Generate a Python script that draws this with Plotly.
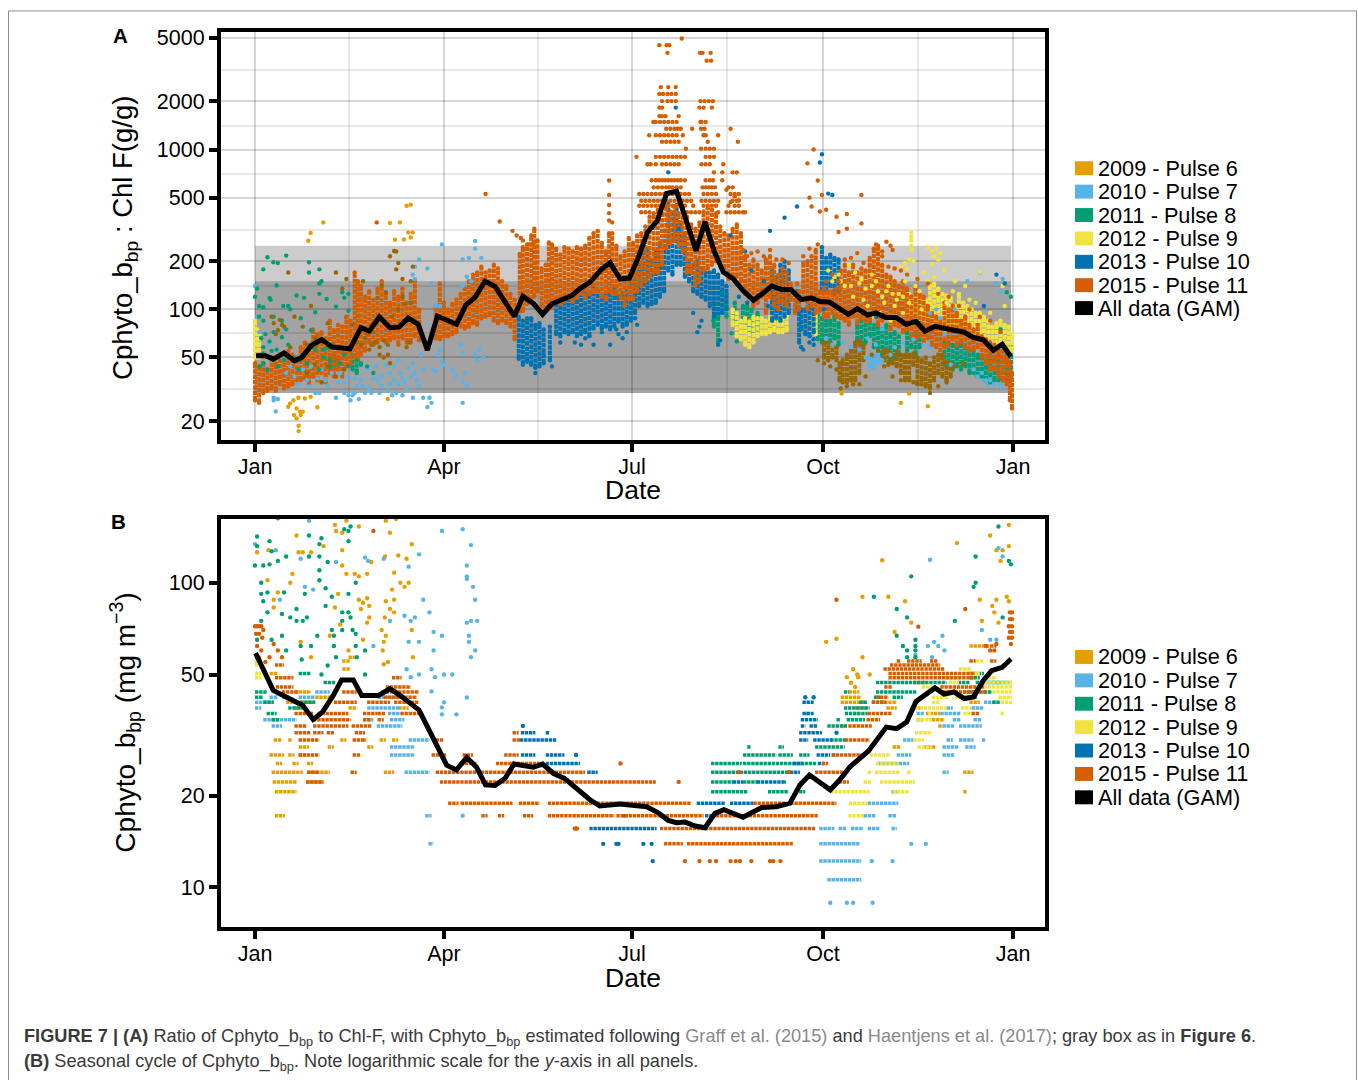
import plotly.graph_objects as go

MONTH_DAYS = [1, 92, 182.5, 274.5, 366]
MONTH_LABELS = ["Jan", "Apr", "Jul", "Oct", "Jan"]
MINOR_DAYS = [46.3, 137.3, 228.2, 320.2]
A_TICKS = [20, 50, 100, 200, 500, 1000, 2000, 5000]
A_MINOR = [31.6, 70.7, 141, 316, 707, 1414, 3162]
B_TICKS = [10, 20, 50, 100]
SERIES = ["2009 - Pulse 6", "2010 - Pulse 7", "2011 - Pulse 8", "2012 - Pulse 9",
          "2013 - Pulse 10", "2015 - Pulse 11", "All data (GAM)"]
COLORS = ["#E69F00", "#56B4E9", "#009E73", "#F0E442", "#0072B2", "#D55E00", "#000000"]
BROWN = "#996600"

GAM_A_DAY = [1.5,5.8,9.8,15,20,23.5,28.3,33,38,46.7,52,56,60.9,66,70.3,74.8,79.6,84,88.8,98,102.4,107,111.7,116.6,125.9,130,135,139.5,143.8,148.6,153.5,157.5,162.3,168,172,176.8,181.3,185.6,190,194.7,199.2,204,208,213.4,217.7,222,226.5,231.3,236,241,245.8,249.8,254.6,259,264,269,273,277.6,282.4,286.7,291,296,300,304.8,309.7,314.5,319.3,323.6,328.4,333,337.6,342.4,347,351.7,356.5,360.8,365]
GAM_A_VAL = [51.2,51.5,48.8,53.4,47.6,50,59.6,64.7,58.2,56.6,76.8,73.2,89.6,76.8,77.5,88.3,80.6,55.6,90.8,80.6,106,119,150,139,90.4,120.6,109,93,108,114,122,135,148,179,196,155,157,212,304,358,531,548,377,233,354,233,171,155,131,114,127,140,133,133,115,118,112,111,101,93,101,92,95,89,89,80.6,84,73,78.3,75.7,74,72,66.6,64.6,55.5,60.5,50.6]
GAM_B_DAY = [1.3,5.8,9.8,16,24,29,33.6,38.7,42.7,48.3,52.4,60.4,66,70.8,80,86.9,93.3,98,103,107.7,112,116.6,121.4,125.7,130,135,139.5,144.6,150,157.5,162.3,167,176.8,189.6,195,200,204,208,213,217.7,222.5,226.8,236,245,252,258.6,263.4,268,278,282.7,287.5,296.3,305,310,314.8,319.3,328.4,332.8,337.6,342.4,347,351.7,355.7,360.8,365]
GAM_B_VAL = [58.8,50.9,44.3,42.2,39.6,35.6,37.7,42.7,48,48,42.7,42.7,44.9,42.7,38.2,30.8,25.2,24.3,26.7,24.8,21.7,21.6,22.8,25.4,25.2,24.8,25.4,23.7,22.8,20.7,19.4,18.5,18.8,18.4,17.6,16.6,16.3,16.4,15.9,15.7,17.5,18,17,18.3,18.4,18.9,21.7,23.4,20.9,22.6,24.9,28,33.6,33.2,34.9,40.8,45.2,43.1,43.8,41.7,42.2,47.8,51.5,52.8,56.2]

# Panel A: (day, low, high) value ranges of the dense clouds
A_COL_2015 = [(1,27,46),(3,26,44),(5,30,46),(7,31,42),(9,32,50),(11,31,46),(13,34,52),(15,32,48),(17,33,55),(19,34,52),(21,36,50),(23,36,58),(25,37,62),(27,34,58),(29,38,75),(31,36,70),(33,40,72),(35,35,66),(37,40,85),(39,38,74),(41,42,80),(43,38,78),(45,44,90),(47,45,85),(49,50,170),(50.5,48,150),(52,52,140),(54,55,120),(56,62,130),(58,60,115),(60,62,135),(62,65,150),(64,62,125),(66,64,110),(68,66,130),(70,60,120),(72,66,135),(74,62,110),(76,62,125),(78,68,150),(80,64,100),(88,66,105),(90,65,145),(92,68,110),(94,68,100),(96,70,108),(98,72,115),(100,78,125),(102,76,135),(104,78,150),(106,82,165),(108,80,170),(110,88,185),(112,90,170),(114,92,175),(116,85,190),(118,82,180),(120,85,150),(122,82,140),(124,78,125),(126,65,115),(128.5,97,222),(130,98,245),(132,108,255),(134,115,290),(135.5,120,320),(137,130,270),(139,105,180),(141,100,190),(142.5,108,262),(144,102,255),(146,115,240),(148,108,220),(150,112,245),(152,118,240),(154,112,230),(156,118,245),(158,125,240),(160,118,250),(162,125,280),(164,128,300),(166,130,310),(168,120,260),(170,115,230),(171.5,130,300),(173,125,300),(175,125,250),(177,118,215),(179,105,230),(181,115,280),(183,115,260),(185,130,290),(187,140,300),(189,150,330),(191,160,380),(193,170,400),(195,170,420),(197,190,400),(199,240,430),(201,260,410),(203,270,440),(205,250,400),(207,230,420),(209,170,380),(211,170,340),(213,140,320),(215,150,350),(217,175,410),(219,180,430),(221,190,420),(223,200,400),(225,190,330),(227,180,300),(229,155,290),(231,160,320),(233,160,340),(235,150,300),(237,125,215),(239,118,190),(241,105,205),(243,110,190),(245,120,175),(247,95,205),(249,120,215),(251,105,190),(253,100,165),(255,110,180),(257,105,170),(259,115,145),(261,95,125),(263,100,130),(265,115,195),(267,100,200),(269,105,215),(271,95,235),(273,98,130),(275,90,135),(277,90,130),(279,95,130),(281,90,135),(283,88,175),(285,85,190),(287,80,170),(289,90,190),(291,82,170),(293,88,180),(295,84,175),(297,85,210),(299,90,240),(301,80,240),(303,85,190),(305,90,165),(307,75,160),(309,80,150),(311,78,140),(313,72,150),(315,75,135),(317,68,120),(319,65,140),(321,68,125),(323,62,120),(325,66,105),(327,60,95),(329,58,90),(331,50,85),(333,58,110),(335,60,100),(337,65,105),(339,60,95),(341,62,85),(343,58,90),(345,55,80),(347,56,75),(349,58,80),(351,50,68),(353,46,65),(355,42,62),(357,42,60),(359,38,55),(361,36,55),(363,34,50),(364.5,27,47),(365.5,24,40)]
A_COL_2013 = [(128,49,90),(130,45,85),(132,47,88),(134,45,88),(136,43,80),(138,44,82),(140,46,75),(143,48,78),(146,70,108),(148,68,115),(150,72,112),(152,70,118),(154,72,120),(156,68,118),(158,70,125),(160,72,135),(162,68,125),(164,76,140),(166,80,130),(168,76,120),(170,78,125),(172,75,130),(174,78,135),(176,84,120),(178,78,125),(180,80,130),(182,85,150),(184,95,190),(186,105,190),(188,110,230),(190,105,240),(192,108,200),(194,110,230),(196,120,260),(198,130,310),(200,175,460),(202,165,400),(204,190,450),(206,190,350),(208,160,300),(210,150,200),(212,130,190),(214,125,200),(216,120,180),(218,115,170),(220,105,170),(222,90,175),(224,90,165),(226,95,150),(228,100,140),(250,85,175),(252,88,160),(254,85,190),(256,90,200),(258,95,175),(262,100,130),(263,62,100),(264,75,100),(266,70,100),(268,68,105),(270,72,100),(274,130,245),(276,130,210),(278,140,220),(280,125,210),(282,130,205)]
A_COL_2011 = [(37,42,50),(39,42,52),(41,43,48),(48,42,52),(50,40,50),(222,78,110),(224,62,100),(226,95,130),(228,90,125),(232,85,110),(236,85,105),(238,78,105),(240,70,100),(243,75,95),(272,65,92),(274,62,88),(276,66,85),(278,62,85),(280,66,90),(282,60,82),(291,64,80),(293,60,88),(295,62,80),(297,68,85),(299,58,80),(301,55,78),(303,52,75),(305,55,80),(307,48,70),(309,50,72),(311,52,68),(315,55,72),(317,58,68),(319,52,72),(321,58,70),(333,45,62),(335,43,62),(337,42,60),(339,44,58),(341,42,60),(343,44,58),(345,40,56),(347,40,55),(349,38,52),(351,38,50),(353,36,48),(355,35,52),(357,36,48),(359,36,52),(361,36,50),(363,35,56),(365,36,60)]
A_COL_BROWN = [(275,50,62),(277,48,62),(279,50,60),(281,48,58),(282.5,36,46),(284,35,48),(286,35,52),(288,36,56),(290,36,62),(292,40,64),(294,48,60),(304,48,56),(306,45,55),(308,46,52),(310,44,55),(312,40,52),(314,36,52),(316,36,52),(318,45,53),(320,34,50),(322,36,48),(324,33,50),(326,32,46),(328,36,50),(330,40,52),(332,38,52),(334,36,47),(336,38,46)]
A_COL_2012 = [(1,50,85),(2,50,75),(3,50,70),(231,80,100),(233,68,95),(235,65,85),(237,60,88),(239,58,84),(241,62,90),(243,68,88),(245,70,88),(247,70,85),(249,72,90),(251,74,86),(253,72,88),(255,72,88),(257,74,92),(269,72,88),(271,70,95),(316,95,125),(318,95,120),(320,85,120),(322,88,118),(324,85,115),(326,90,140),(328,80,145),(330,75,135),(332,76,125),(334,72,122),(336,75,118),(338,78,105),(340,80,120),(342,80,110),(344,76,105),(346,72,100),(348,70,95),(350,70,95),(352,66,90),(354,60,85),(356,60,78),(358,60,82),(360,62,85),(362,60,80),(364,55,78),(365.5,55,70)]
A_COL_2010 = [(297,44,50),(299,43,52),(301,46,55),(305,55,65),(326,58,72),(342,50,66),(346,44,60),(352,36,44),(354,34,40),(356,35,42),(360,33,40)]

# Panel A: individually read points
A_DAY_2009 = [26.7,27.8,33.9,66,70.8,74,76,68.4,72.7,74.8,76.9,76,17.9,17,19.5,21,19.8,22.7,24,21,23,22,22,21.9,25,27.8,31,64.9,312,316,325,283.5]
A_VAL_2009 = [269,301,350,347,350,445,452,273,274,303,303,282,25.8,24.6,27,24,21.8,22.9,22.9,20.8,21.8,18.7,17.3,28,27.7,28.4,24.4,27.5,26,29.8,24.8,29.8]
A_DAY_2010 = [1,2,3,10,10,11,12,8,16,18,20,22,24,26,27,28,30,31,32,33,35,36,38,40,41,42,44,44,45,46,47,48,49,49,50,51,52,53,54,55,56,57,58,59,60,61,62,62,64,65,66,66,67,68,68,69,70,70,71,72,72,73,74,75,76,77,77,78,79,80,81,82,78,80,78,77,82,84,85,86,87,88,89,90,91,92,96,98,100,101,102,101,103,101,107,108,109,111,86,84,91,101,104,107,107,103,105,101,110,88,90,300,296,303,338,344,350,355,361,276,279,284,288,292,295,299,303,307,309,313,318,323,326,329,331,333,336,347,349,351,353,357,358,360,363]
A_VAL_2010 = [140,90,72,28,27,23,27.5,60,40,44,38,34,42,36,33,44,30,37,30,42,36,33,40,28,35,40,30,35,38,29,27,29,30,37,33,27.5,36,33,30,42,32,30,37,44,36,30,33,38,45,31,34,40,29,36,44,30,34,48,40,37,29,35,32,43,38,46,28,40,36,33,52,42,185,205,155,165,28,24.5,28,26,42,41,52,56,47,45,42,38,60,54,40,35,33,26,52,48,56,50,145,180,255,205,210,268,240,160,150,140,210,105,105,60,66,75,100,150,170,36,155,66,60,62,58,56,50,45,48,52,58,62,65,60,95,100,88,70,45,42,38,40,36,34,145,130]
A_DAY_2011 = [1,2,3,7,16,5,9.8,12,11.4,8,8.5,14.6,17,18,3,5,10,5,14,16,14,8,5,11.4,5,3.4,9,12,27,27,32,32,32,21,24.6,33,43,46,40,46,35.5,28,22.6,26,32,37,37,233,230.5,221.7,224,17,23,30,34,44,52,58,363,365,360,355,5,7,12,15,20,22,24,26,28,30,34,36,38,42,44,46,50,52,55,4,6,10]
A_VAL_2011 = [120,135,90,212,217,178,197,195,141,118,115,105,105,100,105,103,90,85,85,75,67,63,58,56,53,44,55,50,197,170,178,145,125,122,118,150,128,125,104,98,116,74,48,40,42,48,44,63,71,85,90,60,88,96,56,118,45,40,128,120,75,60,46,42,44,48,50,42,52,46,60,56,50,58,60,46,52,44,48,46,44,66,70,72]
A_DAY_BROWN = [9,10,11,12,13,14,15,17,18,20,24,26,28,30,33,36,40,43,45,48,50,53,55,57,58,60,61,62,63,64,65,66,66,67,68,69,70,70,72,72,73,74,75,76,77,74,76,69,52,54,56,59,61,63,65,44,40,36,30,26,272,275,278,281,283,286,289,292,295,298,301,304,308,312,318,322,326,330,334,338,342]
A_VAL_BROWN = [90,82,70,74,86,80,78,170,58,90,78,60,105,66,35,82,170,135,155,80,62,150,70,60,72,118,58,140,50,128,52,215,46,90,232,178,100,195,155,120,108,85,62,110,185,58,150,230,60,66,56,62,52,64,60,42,38,44,45,40,48,46,44,42,32,33,34,34,38,52,55,44,38,36,35,34,30,33,35,44,46]
A_DAY_2012 = [317,317,317,317,317,312,314,316,318,315,325,327,328,329,331,330,327,333,280,283,288,295,300,303,310,313,305,308,290,293,298,350,338,343,328,323,277,279,282,285,287,289,291,292,294,296,298,299,301,302,304,306,307,309,311,313,314,316,319,321,322,325,330,334,337,340,345,348,355,361,362]
A_VAL_2012 = [302,285,270,250,235,185,195,205,200,180,245,232,215,240,225,205,190,175,160,150,140,135,150,120,115,120,130,125,170,155,140,172,150,140,160,170,175,150,165,140,190,120,100,145,115,105,165,90,130,95,110,140,85,105,125,95,150,110,140,130,100,150,120,110,130,125,115,110,95,140,105]
A_DAY_2013 = [132,136,140,144,155,158,164,172,178,180,185,212,216,214,215,203.6,225,230,262,249,256,266,270,274,273,277,279,268,264,270,300,358,352,362,200,205,175,224,237,240,246,148,160,168,176,184,234,238,242,248,265,275]
A_VAL_2013 = [48,40,52,44,62,60,60,60,66,72,80,95,85,72,78,1830,64,290,440,310,375,70,65,935,830,530,520,62,58,60,90,165,105,145,720,320,75,60,230,175,150,62,66,72,70,88,120,110,118,105,56,100]
A_DAY_2015 = [59.6,112,118.8,125,127,129,130,133,135,171.5,171.5,171.5,171.5,171.5,173,270,267,272,268,269,273,274,276,281,282,286,286,293,293,301,305,303,307,308,197,195.7,199.2,200.5,206.5,199.6,215.3,216.5,220.4,218.5,220.6,196.4,200,203.6,195.7,197.5,199.6,201.5,203.6,197,199.6,201.5,203.6,215.5,217.5,219.5,221.5,195.7,215,217,221,195.7,197,198.7,205,192.8,194,196,198,200,202,204,215.5,216,218,230,199,201,203,204.5,206,211.5,215.8,217.5,224,190.8,194,196,198,200,202,204,207,217,218,219,233.5,197,199,201,203,205,208.5,215.8,218,220,222,184.7,194,196,198,200,202,204,206,208,218,220,222,226.5,190,191.5,194,197,199,201,203,205,216,218,220,222,226,231,233,228,230,232,234,236,238,240,243,246,249,252,255,258,262,265,268,272,276,279,282,285,288,291,294,297,300,303,306,309,312,315,320,325,330,335,340,345,350,355,360]
A_VAL_2015 = [350,527,355,310,290,280,270,255,260,640,520,450,400,360,350,1000,820,640,500,440,410,520,420,380,305,395,320,520,345,250,265,230,250,235,1830,4500,4500,4500,4950,4030,4030,4030,4030,3600,3600,2460,2460,2460,2230,2230,2230,2230,2230,2010,2010,2010,2010,2010,2010,2010,2010,1830,1830,1830,1830,1620,1620,1620,1620,1490,1490,1490,1490,1490,1490,1490,1490,1490,1490,1350,1350,1350,1350,1350,1350,1350,1350,1350,1230,1230,1230,1230,1230,1230,1230,1230,1230,1230,1230,1120,1120,1120,1120,1120,1120,1120,1013,1013,1013,1013,1013,900,900,900,900,900,900,900,900,900,900,900,900,810,810,810,810,810,810,810,810,810,810,810,810,720,720,720,720,560,470,510,480,235,215,225,230,215,235,205,205,195,145,215,240,255,150,165,150,205,210,225,195,190,255,215,185,180,175,165,155,145,125,120,105,100,90,85,72]
# Panel A: upper rows of the July peak, (value, days)
A_ROW_2015 = [(643,[192,194,195.5,197,198.5,200,201.5,203,204.5,206,208,218,220,221.5,226]),(580,[193,195,197,199,200.5,202,204,206,216.5,218,219.5,221,222.5,229,231]),(527,[186,188,190,192,194,196,198,200,202,204,206,208,210,217,219,221,223,230,232,234]),(478,[187,189,191,193,195,197,199,201,203,205,207,209,211,216,218,220,222,224,231,233]),(445,[186,188,190,192,194,196,198,200,202,204,206,208,212,217,219,221,223,229,232,234]),(405,[187,189,191,209,211,213,215,224,228,230,232,234,236,237])]

# Panel B: (level, flat list of start,end day pairs) of the quantised rows
B_RUN_2009 = [(17.2,[10.6,15.4]),(20.6,[10.6,21,342,344]),(22.2,[9.5,21,26,34]),(23.9,[9,24,26.5,37,63,68,342,347]),(25.5,[11,14,19,22,26,29]),(27.2,[8,15,17,20,22,26]),(28.9,[22,27,36,39,55,58,308,312,323,329]),(30.5,[10,14,17,19,42,45,53,55,61,64,67,70]),(33.9,[283,286,330,332]),(35.5,[327,333]),(37.2,[266,268,289,292,324,331]),(38.8,[290,296,320,322,305,310,20,24,46,50,70,75]),(40.5,[283,295,302,310,345,350,16,30]),(42.1,[283,293,30,38]),(43.8,[287,292,20,28]),(47.1,[318,324]),(50.4,[8,12]),(52.1,[43,47]),(55.4,[43,47,1,4]),(57.0,[1,4,46,49]),(62,[345,355])]
B_RUN_2010 = [(10.6,[276.6,293]),(12.2,[272.7,293]),(13.9,[272.7,292,84.5,86.8]),(15.6,[272.7,280,282,286,288,294,296,302,307.5,310]),(17.2,[294,300,306,310,83,86]),(18.9,[296,310.8]),(20.6,[307.5,310]),(23.9,[332,335,73,85]),(25.5,[301,316]),(27.2,[310,317,332,338,66,78]),(28.9,[332,340,343,348,66,78]),(30.5,[313,318,334,337,340,347,351,352.5,75,85]),(33.9,[332,338,340,351,59.6,72,9,14]),(35.5,[319.5,323,337,341,347,351,5,21,53,58,66,73]),(37.2,[319.5,323,331,341,65,71]),(38.8,[334,337,346,352,55,71,1,4]),(40.5,[1,10,352,358]),(42.1,[8,12,14,18,22,30,60,72]),(43.8,[30,37,345,352]),(47.1,[352,360])]
B_RUN_2011 = [(20.6,[220.6,238.2,248,258,263,266]),(22.2,[220.6,231.3,236,243,255,257]),(23.9,[220.6,258.6]),(25.5,[220.6,235.4,236,271.5]),(27.2,[236,252,253,260,263,268,278.7,281]),(28.9,[238,240,253,255.7,270.7,285]),(30.5,[278,286]),(33.9,[276.6,286]),(35.5,[281,283,285.9,294.7,9,13]),(37.2,[285,296,6.6,11.4]),(38.8,[284.6,297,17,24]),(40.5,[292,296,298,304,5,10,22.7,30,356,360]),(42.1,[299,302,308,313,1,5,345,349]),(43.8,[284.6,287,300,319.6,342,348,1,6.6,352,356]),(47.1,[300,334,339.5,345,348,365,34,40]),(50.4,[345,352,22,28]),(48.8,[345,350])]
B_RUN_2012 = [(17.2,[286.7,294]),(18.9,[287,296]),(20.6,[278,297,308,316]),(22.2,[294,298,302,318.8]),(23.9,[296,298,299.6,311.6,315,317]),(25.5,[300,311]),(27.2,[297,307]),(28.9,[320,327]),(30.5,[318,323]),(32.2,[318.8,327]),(35.5,[319.5,327]),(37.2,[325,327,342,346,360,362]),(38.8,[319,334,341,346]),(40.5,[327,331,360,365.5]),(42.1,[327,335,359,365.5,338,343]),(43.8,[356,365.5,333,338]),(45.5,[352,365.5,322,327]),(47.1,[352,365.5,335,340]),(48.8,[1,4,352,358,333,340]),(50.4,[1,4,345,350]),(52.1,[340,346]),(53.7,[1,3]),(55.4,[1,3,348,352])]
B_RUN_2013 = [(15.6,[162,194.4]),(17.2,[178,180,217.7,221.7]),(18.9,[213.7,227.3,229.7,241]),(22.2,[231,236,242.6,255.4]),(23.9,[161,166,258.6,263.4]),(25.5,[141,157.5,260,265,272,275]),(27.2,[129,136,141,150,271.4,278]),(30.5,[128.6,146,263,267.4,269.8,278.7]),(32.2,[129,136,141,143,263,274]),(33.9,[263.8,266,268,272]),(35.5,[263.8,272]),(37.2,[264.6,270]),(40.5,[264.6,270])]
B_RUN_2015 = [(13.9,[198,207,209,260]),(15.6,[196,271]),(17.2,[110,113,118,121,130,135,142,174,175,217,221,272]),(18.9,[94,99,100,125,128,138,142,211,241,281]),(22.2,[90,194,25.5,34,282,287]),(23.9,[88,160,270.7,284,26,32,47,50]),(25.5,[100,107.7,117,140,274,277]),(27.2,[86,93,101,106,121,128,22,32,48,52,278.7,294]),(30.5,[88,92,125,128.6,22,32,48,54,285,297]),(32.2,[125,128,20,28,29,34,35.5,39,49,54]),(33.9,[20,26,29,46,47.5,57,286.7,298]),(35.5,[29,47,53,57,60,63,295.5,302]),(37.2,[20,29,31,46,53,60,60,64,71,80,296,307.6,346,350]),(40.5,[39,50,55,66,68,80,298,305]),(42.1,[63,79,300,306]),(43.8,[14,22,43,50,64,80,332,353]),(45.5,[11,19.5,64,76,304,308,331,352]),(48.8,[10.6,19.5,67,71.6,306,347]),(50.4,[306,347.7]),(52.1,[303.6,333]),(53.7,[10.6,15,306.8,331]),(55.4,[310,312,315,322,326,330,345,348,355,358]),(62,[355,358])]

# Panel B: individually read points
B_DAY_2009 = [39.5,45,51,40,43,64,69,66,21,2,7.5,28,22,24,34,43,43,45,49,51,55,57,63.6,70,74,76.5,68,71,75,73,67,68,64,66,68,51,53,55,52,56,56,55,63.5,66,41,39.5,19,18,10,7,12,10,62,64,76.5,53,63,62.5,37,42,23,28,46,63,65,77,303,293.5,306,314,276,281,317,309,339,293.5,355,364,364,358,361,360,350,358,363,364,356,357,351,359,289,291,297,286,288,290,291.5]
B_VAL_2009 = [155,160,153,148,146,160,162,146,143,126,128,126,126,126,132,128,114,107,107,105,107,117,122,123,120,134,108,100,100,97,95,88,87,82,80,88,86,89,82,84,77,74,77,75,92,83,107,100,88,102,93,83,70,67,70,65,64,60,67,73,64,57,60,54,55,57,118.6,90,90,87,64,65.5,74,69,135,57,143,155,132,128,128,118,88,88,90,87,84,80,75,74,52,50,50,49,47,45.5,49]
B_DAY_2010 = [1,11,23,40,54,55.5,63,75,80,27,25,29,13,82,85,73,66,78,76,87,75,80,87,91,101,105,103,103,103,106,107,105,108,103,104,104,107,105,91,86,92,96,87.7,103,86,92,91,91,98,101,74,80,76,58,326,359,361,332,328,325,330,333,351,355,358,319,327,278,286,289,298.4,298,308,317,324]
B_VAL_2010 = [134,128,120,117,121,118,120,113,124,160,97,95,88,88,80,78,75,77,75,69,64,64,60,148,150,133,114,105,103,97,88,75,75,74,67,64,60,57,67,52,50,50,49,42,44,40.5,39,37,37,17.2,52,50,49,62,119,130,122,67,64,62,62,60,70,65,65,58,57,8.9,8.9,8.9,8.9,12.2,12.2,13.9,13.9]
B_DAY_2011 = [2,2,8,9,1,5,8,12,16,27,27,32,33,32,36,32,32,4,4,7,5,15,25,35,38,46,49.5,35,7,14,18,21,21,24,26,43,46,47,43,47,46,44,46,12,4,9,2,14,31,38,39,43,48,49.5,39,28,23,16,49.5,54,40,50,36,54,33,23.5,359,348,364,365,317,348,347,299,310,315,338,310,313,361,319,319,319,319,315,315]
B_VAL_2011 = [142,132,137,127,114,114,115,118,122,143,122,134,140,122,117,110,102,100,92,93,87,93,92,96,90,92,100,84,80,79,77,82,75,75,77,80,80,77,75,153,148,150,137,163,75,65,65,67,67,70,67,70,70,68,62,62,62,60,62,60,57,57,53.5,50,50,56,153,122,118,115,105,100,97,90,82,77,75,67,62,77,65,62,60,57,60,57]
B_DAY_2013 = [130,155.6,168.7,175,176,188,192,192.5,266,270,281]
B_VAL_2013 = [33.9,27.2,13.9,13.9,13.9,13.9,13.9,12.2,42.1,42.1,32.2]
B_DAY_2015 = [1,2,3,4,5,1.5,3,4.5,58,156,155,208,215,220,223,230,232.5,234.5,240,249,250.6,254,281,343,320.4,364.5,365.5,364.5,365.5,364,365.5,364.5,365.5,364,365.5,365,353,355,357,358,177,205,234,258,2,4,10,12,14,6,8]
B_VAL_2015 = [72,72,72,72,70,68,68,66,148,15.6,15.6,12.2,12.2,12.2,12.2,12.2,12.2,12.2,12.2,12.2,12.2,12.2,88,82,71.7,80,80,76,76,72,72,69,69,66,66,63,62,60,60,63,25.5,22.2,23.9,23.9,62,60,63,60,57,55,57]

FONT = "Liberation Sans"
fig = go.Figure()


def add_cols(cols, color):
    xs, ys, ex, ey = [], [], [], []
    for d, lo, hi in cols:
        xs += [d, d, None]
        ys += [lo, hi, None]
        ex += [d, d]
        ey += [lo, hi]
    fig.add_trace(go.Scatter(x=xs, y=ys, mode="lines", xaxis="x", yaxis="y",
                             line=dict(color=color, width=4, dash="4.5px,0.8px"), hoverinfo="skip", showlegend=False))
    fig.add_trace(go.Scatter(x=ex, y=ey, mode="markers", xaxis="x", yaxis="y",
                             marker=dict(color=color, size=4.4), hoverinfo="skip", showlegend=False))


def add_runs(runs, color):
    xs, ys = [], []
    for level, pairs in runs:
        for i in range(0, len(pairs), 2):
            xs += [pairs[i], pairs[i + 1], None]
            ys += [level, level, None]
    fig.add_trace(go.Scatter(x=xs, y=ys, mode="lines", xaxis="x2", yaxis="y2",
                             line=dict(color=color, width=3.5, dash="3.4px,0.7px"), hoverinfo="skip", showlegend=False))


def add_pts(days, vals, color, yaxis):
    fig.add_trace(go.Scatter(x=days, y=vals, mode="markers", yaxis=yaxis, xaxis="x" if yaxis == "y" else "x2",
                             marker=dict(color=color, size=4.4), hoverinfo="skip", showlegend=False))


# Panel A
for cols, color in [(A_COL_2010, COLORS[1]), (A_COL_2011, COLORS[2]), (A_COL_2012, COLORS[3]),
                    (A_COL_2013, COLORS[4]), (A_COL_2015, COLORS[5]), (A_COL_BROWN, BROWN)]:
    add_cols(cols, color)
for value, days in A_ROW_2015:
    add_pts(days, [value] * len(days), COLORS[5], "y")
for days, vals, color in [(A_DAY_2009, A_VAL_2009, COLORS[0]), (A_DAY_2010, A_VAL_2010, COLORS[1]),
                          (A_DAY_2011, A_VAL_2011, COLORS[2]), (A_DAY_BROWN, A_VAL_BROWN, BROWN),
                          (A_DAY_2012, A_VAL_2012, COLORS[3]), (A_DAY_2013, A_VAL_2013, COLORS[4]),
                          (A_DAY_2015, A_VAL_2015, COLORS[5])]:
    add_pts(days, vals, color, "y")
fig.add_trace(go.Scatter(x=GAM_A_DAY, y=GAM_A_VAL, mode="lines", xaxis="x", yaxis="y", hoverinfo="skip", showlegend=False,
                         line=dict(color="#000000", width=5)))

# Panel B
add_runs(B_RUN_2009, COLORS[0])
add_pts(B_DAY_2009, B_VAL_2009, COLORS[0], "y2")
add_runs(B_RUN_2010, COLORS[1])
add_pts(B_DAY_2010, B_VAL_2010, COLORS[1], "y2")
add_runs(B_RUN_2011, COLORS[2])
add_pts(B_DAY_2011, B_VAL_2011, COLORS[2], "y2")
add_runs(B_RUN_2012, COLORS[3])
add_runs(B_RUN_2013, COLORS[4])
add_pts(B_DAY_2013, B_VAL_2013, COLORS[4], "y2")
add_runs(B_RUN_2015, COLORS[5])
add_pts(B_DAY_2015, B_VAL_2015, COLORS[5], "y2")
fig.add_trace(go.Scatter(x=GAM_B_DAY, y=GAM_B_VAL, mode="lines", xaxis="x2", yaxis="y2", hoverinfo="skip", showlegend=False,
                         line=dict(color="#000000", width=5)))

W, H = 1358, 1080
px = lambda v: v / W
py = lambda v: 1 - (v - 4) / H
XR = [-15.37, 381.4]

shapes = [
    dict(type="rect", xref="x", yref="y", x0=1, x1=365, y0=30, y1=250, layer="below", line_width=0, fillcolor="rgba(0,0,0,0.2)"),
    dict(type="rect", xref="x", yref="y", x0=1, x1=365, y0=30, y1=150, layer="below", line_width=0, fillcolor="rgba(0,0,0,0.2)"),
    dict(type="rect", xref="paper", yref="paper", x0=px(8.5), x1=px(1356.5), y0=py(1200), y1=py(10), layer="below",
         line=dict(color="#8c8c8c", width=1), fillcolor="rgba(0,0,0,0)"),
]
annotations = []
ROW_A = [168, 191.5, 215, 238.5, 262, 285.5, 308.5]
ROW_B = [659, 682.5, 706, 729.5, 753, 776.5, 800]
for rows in (ROW_A, ROW_B):
    for name, color, yy in zip(SERIES, COLORS, rows):
        shapes.append(dict(type="rect", xref="paper", yref="paper", x0=px(1075), x1=px(1093), y0=py(yy + 7), y1=py(yy - 7),
                           line_width=0, fillcolor=color, layer="above"))
        annotations.append(dict(text=name, xref="paper", yref="paper", x=px(1096), y=py(yy), xanchor="left", yanchor="middle",
                                showarrow=False, font=dict(family=FONT, size=21.7, color="#000000")))


def centered(text, x, y, size, angle=0):
    return dict(text=text, xref="paper", yref="paper", x=px(x), y=py(y), xanchor="center", yanchor="middle", showarrow=False,
                textangle=angle, font=dict(family=FONT, size=size, color="#000000"))


annotations += [
    centered("<b>A</b>", 120, 35, 20.5),
    centered("<b>B</b>", 118, 523, 20.5),
    centered("Date", 633, 491, 26.5),
    centered("Date", 633, 982, 26.5),
    centered("Cphyto_b<sub>bp</sub> : Chl F(g/g)", 125, 238, 27.5, -90),
    centered("Cphyto_b<sub>bp</sub> (mg m<sup>\u22123</sup>)", 125, 725, 28, -90),
    dict(text='<b>FIGURE 7 | (A)</b> Ratio of Cphyto_b<sub>bp</sub> to Chl-F, with Cphyto_b<sub>bp</sub> estimated following '
              '<span style="color:#8a8a8a">Graff et al. (2015)</span> and <span style="color:#8a8a8a">Haentjens et al. (2017)</span>; '
              'gray box as in <b>Figure 6</b>.',
         xref="paper", yref="paper", x=px(22), y=py(1041), xanchor="left", yanchor="middle", showarrow=False,
         font=dict(family=FONT, size=18.2, color="#3a3a3a")),
    dict(text='<b>(B)</b> Seasonal cycle of Cphyto_b<sub>bp</sub>. Note logarithmic scale for the <i>y</i>-axis in all panels.',
         xref="paper", yref="paper", x=px(22), y=py(1066), xanchor="left", yanchor="middle", showarrow=False,
         font=dict(family=FONT, size=18.2, color="#3a3a3a")),
]

common_x = dict(range=XR, tickmode="array", tickvals=MONTH_DAYS, ticktext=MONTH_LABELS, showline=True, mirror=True,
                linecolor="#000", linewidth=4, ticks="outside", ticklen=8, tickwidth=4, tickcolor="#000", zeroline=False,
                ticklabelstandoff=-4, tickfont=dict(family=FONT, size=21.5, color="#000"))
common_y = dict(type="log", tickmode="array", showline=True, mirror=True, linecolor="#000", linewidth=4, ticks="outside",
                ticklen=8, tickwidth=4, tickcolor="#000", zeroline=False, tickfont=dict(family=FONT, size=21.5, color="#000"))
GRID_MAJOR = "rgba(0,0,0,0.16)"
GRID_MINOR = "rgba(0,0,0,0.09)"

fig.update_layout(
    width=W, height=H, margin=dict(l=0, r=0, t=0, b=0), paper_bgcolor="#ffffff", plot_bgcolor="#ffffff", showlegend=False,
    shapes=shapes, annotations=annotations,
    xaxis=dict(domain=[px(221), px(1045)], anchor="y", showgrid=True, gridcolor=GRID_MAJOR, gridwidth=1.6,
               minor=dict(tickvals=MINOR_DAYS, showgrid=True, gridcolor=GRID_MINOR, gridwidth=1.6, ticks=""), **common_x),
    yaxis=dict(domain=[py(441), py(31)], anchor="x", range=[1.1826, 3.7364], tickvals=A_TICKS, ticktext=[str(t) for t in A_TICKS],
               showgrid=True, gridcolor=GRID_MAJOR, gridwidth=1.6,
               minor=dict(tickvals=A_MINOR, showgrid=True, gridcolor=GRID_MINOR, gridwidth=1.6, ticks=""), **common_y),
    xaxis2=dict(domain=[px(221), px(1045)], anchor="y2", showgrid=False, **common_x),
    yaxis2=dict(domain=[py(930), py(520)], anchor="x2", range=[0.8709, 2.2108], tickvals=B_TICKS, ticktext=[str(t) for t in B_TICKS],
                showgrid=False, **common_y),
)

fig.write_html("out.html", config={"displayModeBar": False}, post_script="document.body.style.margin='0';")
